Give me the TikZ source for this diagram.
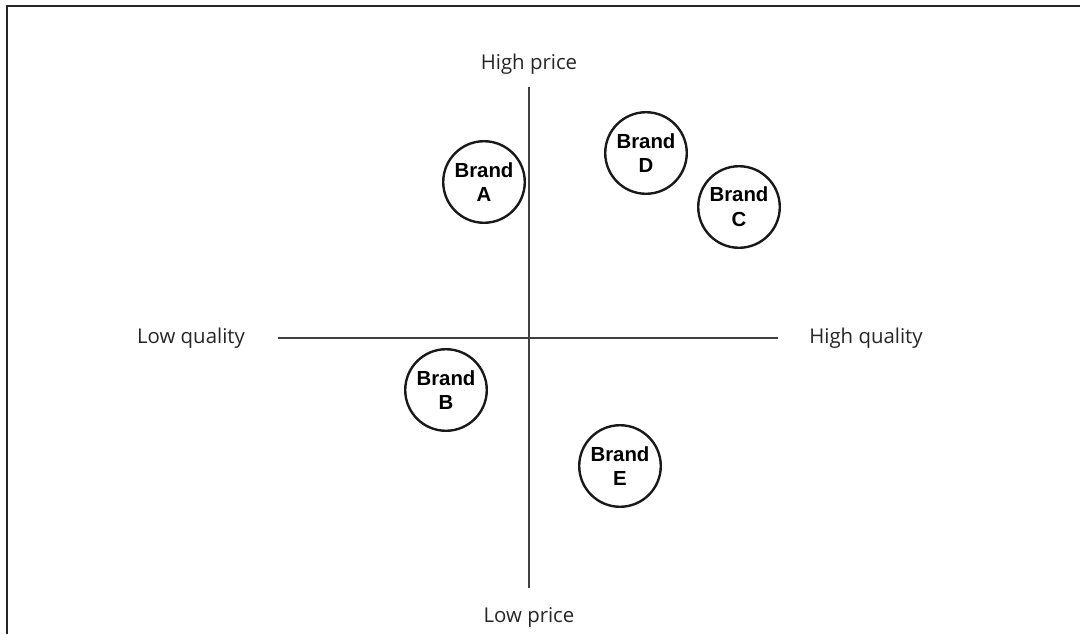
\documentclass[tikz,border=0pt]{standalone}
\usepackage{fontspec}
\setmainfont{Liberation Sans}
\newfontfamily\axisfont{Open Sans}
\usetikzlibrary{positioning}

\tikzset{
  brand/.style={circle, draw=black!90, line width=1.7pt, minimum size=58pt, inner sep=0pt,
    align=center, font=\fontsize{14.5}{17.5}\selectfont\bfseries},
  axislabel/.style={font=\axisfont\fontsize{14.5}{16}\selectfont, text=black!85},
  axisline/.style={draw=black!75, line width=1.4pt}
}

\begin{document}
\begin{tikzpicture}[x=0.025cm, y=-0.025cm]
    \useasboundingbox (0,0) rectangle (1080,634);

    % Frame (top and left only)
    \draw[line width=1.5pt, black!85] (1080,6) -- (7,6) -- (7,634);

    % Axes
    \coordinate (ptop) at (529,87);
    \coordinate (pbot) at (529,588);
    \coordinate (qlow) at (278,338);
    \coordinate (qhigh) at (778,338);
    \draw[axisline] (ptop) -- (pbot);
    \draw[axisline] (qlow) -- (qhigh);

    % Axis labels
    \node[axislabel] (highprice) at (529,64) {High price};
    \node[axislabel] (lowprice) at (529,617) {Low price};
    \node[axislabel] (lowqual) at (191,338) {Low quality};
    \node[axislabel] (highqual) at (866,338) {High quality};

    % Brands
    \node[brand] (brandA) at (484,182) {Brand\\A};
    \node[brand] (brandD) at (646,153) {Brand\\D};
    \node[brand] (brandC) at (739,207) {Brand\\C};
    \node[brand] (brandB) at (446,390) {Brand\\B};
    \node[brand] (brandE) at (620,466) {Brand\\E};
\end{tikzpicture}
\end{document}
